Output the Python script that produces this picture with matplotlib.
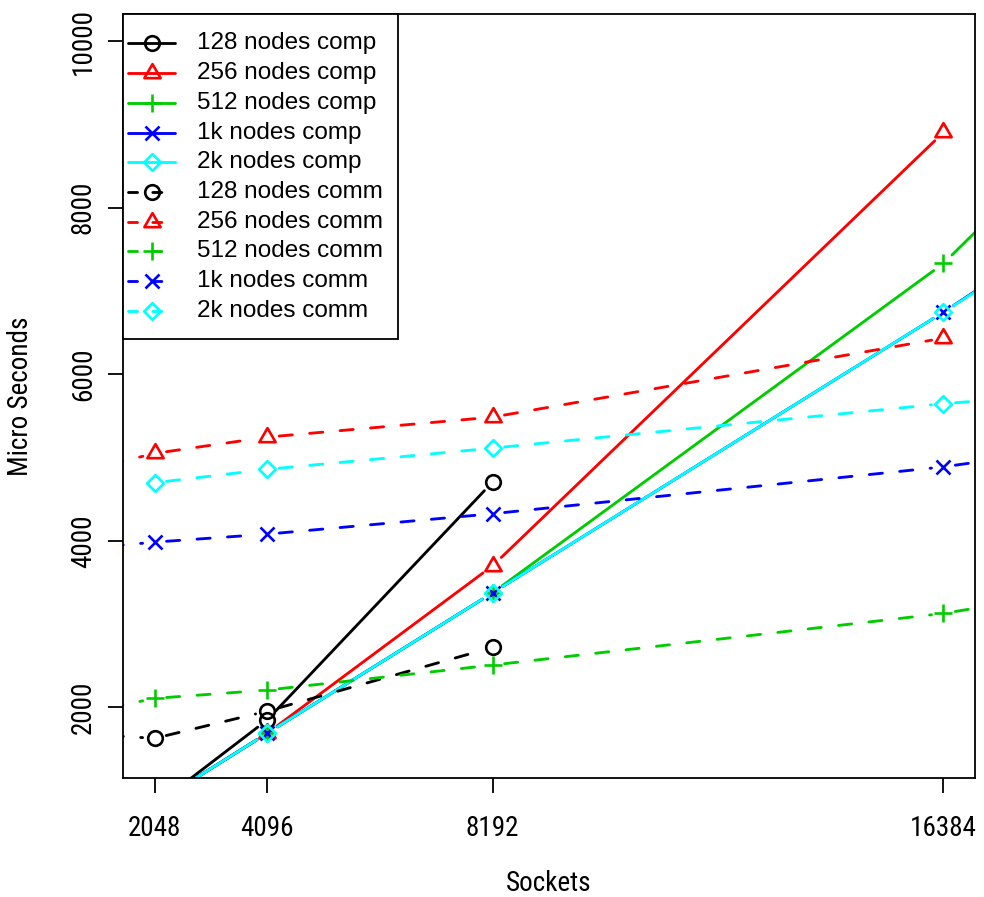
import numpy as np
import matplotlib
matplotlib.use("Agg")
import matplotlib.pyplot as plt
from matplotlib.path import Path
from matplotlib.lines import Line2D
from matplotlib.patches import Rectangle
from matplotlib import font_manager

# ---------------- data ----------------
sockets = [1024, 2048, 4096, 8192, 16384, 32768]
xticks = [2048, 4096, 8192, 16384]
yticks = [2000, 4000, 6000, 8000, 10000]
nan = np.nan

comp_128 = [nan, 815, 1850, 4706, nan, nan]
comp_256 = [nan, 840, 1690, 3700, 8903, nan]
comp_512 = [nan, 840, 1690, 3376, 7330, 18000]
comp_1k = [nan, 840, 1690, 3376, 6745, 13900]
comp_2k = [nan, 840, 1690, 3376, 6745, 13700]

comm_128 = [1670, 1628, 1955, 2720, nan, nan]
comm_256 = [4884, 5049, 5245, 5485, 6434, nan]
comm_512 = [1966, 2108, 2208, 2508, 3128, 4900]
comm_1k = [3921, 3984, 4080, 4325, 4888, 6400]
comm_2k = [nan, 4697, 4858, 5113, 5646, 6500]

labels = ["128 nodes comp", "256 nodes comp", "512 nodes comp", "1k nodes comp", "2k nodes comp",
          "128 nodes comm", "256 nodes comm", "512 nodes comm", "1k nodes comm", "2k nodes comm"]
series = [comp_128, comp_256, comp_512, comp_1k, comp_2k,
          comm_128, comm_256, comm_512, comm_1k, comm_2k]
colors = ["#000000", "#FF0000", "#00CD00", "#0000FF", "#00FFFF"] * 2
styles = ["solid"] * 5 + ["dashed"] * 5

# ---------------- markers ----------------
tri = Path([(0, 1), (-0.866, -0.5), (0.866, -0.5), (0, 1)], closed=True)
dia = Path([(0, 1), (1, 0), (0, -1), (-1, 0), (0, 1)], closed=True)
marker_specs = [("o", 10.5), (tri, 13.5), ("+", 13.0), ("x", 9.5), (dia, 12.0)] * 2

W, H, DPI = 984, 897, 100
plt.rcParams['lines.scale_dashes'] = False
fig = plt.figure(figsize=(W / DPI, H / DPI), dpi=DPI)
L, R, T, B = 123, 975, 14, 778
ax = fig.add_axes([L / W, 1 - B / H, (R - L) / W, (B - T) / H])
ax.set_xlim(1474.6, 16957.4)
ax.set_ylim(1152, 10325)

LW = 2.05
MEW = 1.9
DASH = (9.5, 12.5)
LEG_DASH = (6.5, 11.0)

# narrow font for the axis text if available
avail = {f.name for f in font_manager.fontManager.ttflist}
narrow = None
for cand in ["Liberation Sans Narrow", "Roboto Condensed", "Arial Narrow", "Open Sans Condensed"]:
    if cand in avail:
        narrow = cand
        break
if narrow is not None:
    tick_font = dict(family=[narrow, "DejaVu Sans"], size=19.5)
else:
    tick_font = dict(family=["Liberation Sans", "DejaVu Sans"], size=17.0)
leg_font = dict(family=["Liberation Sans", "DejaVu Sans"], size=17.5)

GAP = 12.0  # pixels


def draw_b(ax, xs, ys, color, ls, marker, ms):
    xs = np.asarray(xs, float)
    ys = np.asarray(ys, float)
    Td = ax.transData
    pts = Td.transform(np.column_stack([xs, ys]))
    inv = Td.inverted()
    for i in range(len(xs) - 1):
        if not (np.isfinite(ys[i]) and np.isfinite(ys[i + 1])):
            continue
        p0, p1 = pts[i], pts[i + 1]
        d = p1 - p0
        Ln = np.hypot(*d)
        if Ln <= 2 * GAP:
            continue
        u = d / Ln
        q = inv.transform(np.array([p0 + u * GAP, p1 - u * GAP]))
        line, = ax.plot(q[:, 0], q[:, 1], color=color, lw=LW,
                        solid_capstyle="round", dash_capstyle="round")
        if ls == "dashed":
            line.set_dashes(DASH)
    ax.plot(xs, ys, ls="none", marker=marker, ms=ms, mew=MEW, mfc="none", mec=color)


for ys, c, ls, (mk, ms) in zip(series, colors, styles, marker_specs):
    draw_b(ax, sockets, ys, c, ls, mk, ms)

# ---------------- axes styling ----------------
for s in ax.spines.values():
    s.set_linewidth(1.3)
ax.set_xticks(xticks)
ax.set_xticklabels([str(v) for v in xticks], fontdict=tick_font)
ax.set_yticks(yticks)
ax.set_yticklabels([str(v) for v in yticks], fontdict=tick_font, rotation=90, va="center")
ax.tick_params(axis="both", direction="out", length=10.8, width=1.3, color="black")
ax.tick_params(axis="x", pad=16)
ax.tick_params(axis="y", pad=8)

ax.set_xlabel("Sockets", fontdict=tick_font, va="center")
ax.xaxis.set_label_coords(0.5, (B - 883) / (B - T))
ax.set_ylabel("Micro Seconds", fontdict=tick_font, va="center")
ax.yaxis.set_label_coords((21 - L) / (R - L), 0.5)

# ---------------- legend (R style) ----------------
def fx(px):
    return px / W


def fy(py):
    return 1 - py / H


fig.add_artist(Rectangle((fx(123), fy(339)), fx(398) - fx(123), fy(14) - fy(339),
                         transform=fig.transFigure, facecolor="white", edgecolor="black",
                         lw=1.3, zorder=5))
row0, dy = 43.5, 29.7
for i, (lab, c, ls, (mk, ms)) in enumerate(zip(labels, colors, styles, marker_specs)):
    yy = row0 + i * dy
    ln = Line2D([fx(128), fx(175)], [fy(yy), fy(yy)], transform=fig.transFigure, color=c,
                lw=LW, solid_capstyle="round", dash_capstyle="round", zorder=6)
    if ls == "dashed":
        ln.set_dashes(LEG_DASH)
    fig.add_artist(ln)
    fig.add_artist(Line2D([fx(151.5)], [fy(yy)], transform=fig.transFigure, ls="none",
                          marker=mk, ms=ms, mew=MEW, mfc="none", mec=c, zorder=7))
    fig.text(fx(197), fy(yy), lab, va="center", ha="left", zorder=7, **leg_font)

fig.savefig("out.png", dpi=DPI)
